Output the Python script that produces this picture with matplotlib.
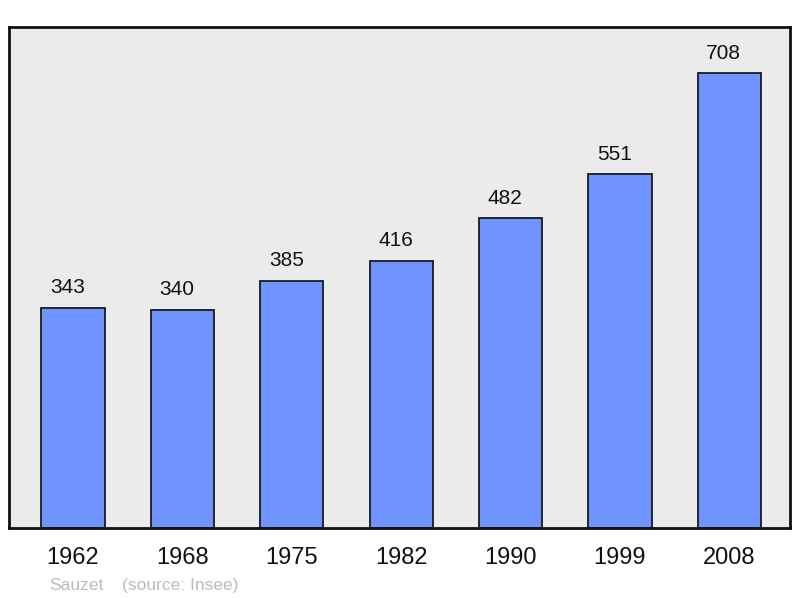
import matplotlib
matplotlib.use("Agg")
import matplotlib.pyplot as plt

years = ["1962", "1968", "1975", "1982", "1990", "1999", "2008"]
population = [343, 340, 385, 416, 482, 551, 708]

plt.rcParams['font.family'] = ['Liberation Sans', 'DejaVu Sans']

fig = plt.figure(figsize=(8, 5.98), dpi=100)
ax = fig.add_axes([9/800, 70/598, 781/800, 501/598])
ax.set_facecolor('#ebebeb')

x = list(range(len(years)))
ax.bar(x, population, width=0.578, color='#7094ff', edgecolor='#1a1a1a', linewidth=1.3, zorder=2)
for xi, v in zip(x, population):
    ax.annotate(str(v), (xi, v), xytext=(-4, 10.5), textcoords='offset points',
                ha='center', va='baseline', fontsize=15, color='#111111')

ax.set_xlim(-0.585, 6.555)
ax.set_ylim(0, 780)
ax.set_yticks([])
ax.set_xticks(x)
ax.set_xticklabels(years, fontsize=17, color='#111111')
ax.tick_params(axis='x', length=0, pad=13.5)
for s in ax.spines.values():
    s.set_linewidth(2)
    s.set_color('#111111')

fig.text(49/800, 8/598, "Sauzet", fontsize=12.5, color='#bbbbbb', va='baseline')
fig.text(122/800, 8/598, "(source: Insee)", fontsize=12.5, color='#bbbbbb', va='baseline')

fig.savefig("out.png", dpi=100)
